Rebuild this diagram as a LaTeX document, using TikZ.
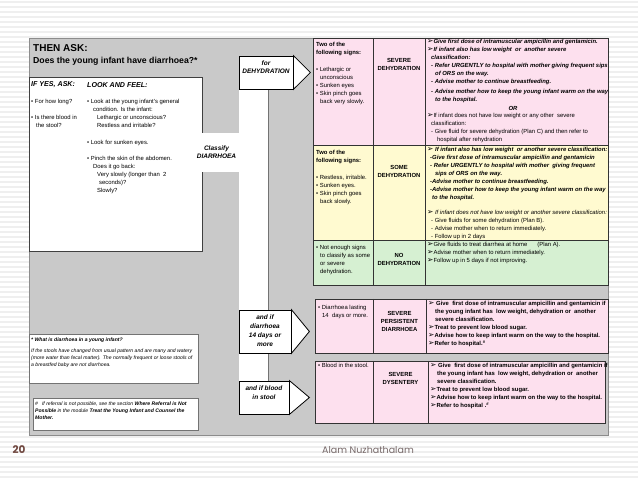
\documentclass[tikz,border=0pt]{standalone}
\usepackage{fontspec}
\setmainfont{Liberation Sans}
\newfontfamily\dingfont{DejaVu Sans}
\newfontfamily\footfont{Poppins}
\usetikzlibrary{calc}
\definecolor{cPanel}{RGB}{201,201,201}
\definecolor{cPink}{RGB}{253,224,238}
\definecolor{cYellow}{RGB}{255,250,208}
\definecolor{cLime}{RGB}{214,240,210}
\definecolor{cStripe}{RGB}{239,239,239}
\definecolor{cNum}{RGB}{112,72,64}
\definecolor{cAuthor}{RGB}{118,104,104}
\newcommand{\arrmark}{{\dingfont\mdseries\upshape\fontsize{7.6}{8}\selectfont ➢}}
\tikzset{
  tabline/.style={draw=black!80, line width=0.6pt},
  boxline/.style={draw=black!75, line width=0.8pt},
  notebox/.style={draw=black!55, line width=0.8pt, fill=white},
  arrowbox/.style={draw=black, line width=0.8pt, fill=white, inner sep=0pt},
  tipshape/.style={draw=black, line width=0.8pt, fill=white},
  tabtext/.style={anchor=north west, align=left, inner sep=0pt, font=\fontsize{5.9}{8}\selectfont},
  tabbi/.style={tabtext, font=\fontsize{5.9}{8}\selectfont\bfseries\itshape},
  tabbf/.style={tabtext, font=\fontsize{5.9}{8}\selectfont\bfseries},
  classlbl/.style={anchor=north, align=center, inner sep=0pt, font=\fontsize{5.9}{7.8}\selectfont\bfseries},
  arrowtext/.style={align=center, inner sep=0pt, font=\fontsize{6.5}{8.9}\selectfont\bfseries\itshape},
  notetext/.style={anchor=north west, align=left, inner sep=0pt, font=\fontsize{5.1}{7}\selectfont\itshape},
  headtext/.style={anchor=west, inner sep=0pt}
}
\begin{document}
\begin{tikzpicture}[x=1pt, y=-1pt]
  \useasboundingbox (0,0) rectangle (638,478);
  % Striped background
  \foreach \yy in {2,7,...,477}
    \draw[cStripe, line width=2pt] (0,\yy) -- (638,\yy);
  % Grey panel
  \draw[fill=cPanel, draw=black!45, line width=0.8pt] (29,38) rectangle (608,435);
  % Ask / look box and white channel
  \draw[boxline, fill=white] (29,77) rectangle (202,251);
  \fill[white] (193,133.5) rectangle (240,172);
  \fill[white] (239,88) rectangle (268,382);
  \draw[black!55, line width=0.7pt] (268,89) -- (268,381);
  % Header texts
  \node[headtext, font=\fontsize{10}{12}\selectfont\bfseries] (thenask) at (33,47.7) {THEN ASK:};
  \node[headtext, font=\fontsize{8.7}{10}\selectfont\bfseries] (askq) at (33,61) {Does the young infant have diarrhoea?*};
  \node[headtext, font=\fontsize{7.1}{9}\selectfont\bfseries\itshape] (ifyes) at (31,84.7) {IF YES, ASK:};
  \node[headtext, font=\fontsize{7.1}{9}\selectfont\bfseries\itshape] (lookfeel) at (87,84.7) {LOOK AND FEEL:};
  \node[tabtext] (askitems) at (31,97.9) {\strut• For how long?\\[8pt]• Is there blood in\\\hspace*{5pt}the stool?};
  \node[tabtext] (lookitems) at (87,97.9) {\strut• Look at the young infant's general\\\hspace*{6pt}condition. Is the infant:\\\hspace*{10pt}Lethargic or unconscious?\\\hspace*{10pt}Restless and irritable?\\[9pt]• Look for sunken eyes.\\[8pt]• Pinch the skin of the abdomen.\\\hspace*{6pt}Does it go back:\\\hspace*{10pt}Very slowly (longer than\ \ 2\\\hspace*{12pt}seconds)?\\\hspace*{10pt}Slowly?};
  \node[arrowtext] (classify) at (216.5,152.2) {Classify\\DIARRHOEA};
  % Arrow boxes
  \node[arrowbox, minimum width=54pt, minimum height=33pt] (dehyd) at (266,72.5) {};
  \draw[tipshape] (dehyd.north east) -- ($(dehyd.east)+(17,0)$) -- (dehyd.south east) -- cycle;
  \node[arrowtext] (dehydtxt) at (266,67.2) {for\\DEHYDRATION};
  \node[arrowbox, minimum width=52pt, minimum height=43pt] (pers) at (265,331.5) {};
  \draw[tipshape] (pers.north east) -- ($(pers.east)+(18,0)$) -- (pers.south east) -- cycle;
  \node[arrowtext] (perstxt) at (265,331) {and if\\diarrhoea\\14 days or\\more};
  \node[arrowbox, minimum width=50pt, minimum height=33pt] (blood) at (264,397.5) {};
  \draw[tipshape] (blood.north east) -- ($(blood.east)+(20,0)$) -- (blood.south east) -- cycle;
  \node[arrowtext] (bloodtxt) at (264,393) {and if blood\\in stool};
  % Dehydration table
  \fill[cPink] (313,38) rectangle (608,145);
  \fill[cYellow] (313,145) rectangle (608,240);
  \fill[cLime] (313,240) rectangle (608,285);
  \draw[tabline] (313,38) rectangle (608,285);
  \draw[tabline] (313,145) -- (608,145) (313,240) -- (608,240);
  \draw[tabline] (373,38) -- (373,285) (425,38) -- (425,285);
  \node[tabtext] (r1sign) at (316,40.9) {\strut\textbf{Two of the}\\\textbf{following signs:}\\[9pt]• Lethargic or\\\hspace*{4pt}unconscious\\• Sunken eyes\\• Skin pinch goes\\\hspace*{4pt}back very slowly.};
  \node[classlbl] (r1class) at (399,56.9) {\strut SEVERE\\DEHYDRATION};
  \node[tabbi] (r1act) at (427,37.9) {\strut\arrmark Give first dose of intramuscular ampicillin and gentamicin.\\\arrmark If infant also has low weight\ \ or\ \ another severe\\\hspace*{4pt}classification:\\\hspace*{4pt}- Refer URGENTLY to hospital with mother giving frequent sips\\\hspace*{8pt}of ORS on the way.\\\hspace*{4pt}- Advise mother to continue breastfeeding.\\[2pt]\hspace*{4pt}- Advise mother how to keep the young infant warm on the way\\\hspace*{8pt}to the hospital.};
  \node[tabbi, anchor=center] (r1or) at (513,108) {OR};
  \node[tabtext] (r1alt) at (427,111.9) {\strut\arrmark If infant does not have low weight or any other\ \ severe\\\hspace*{4pt}classification:\\\hspace*{4pt}- Give fluid for severe dehydration (Plan C) and then refer to\\\hspace*{10pt}hospital after rehydration};
  \node[tabtext] (r2sign) at (316,148.9) {\strut\textbf{Two of the}\\\textbf{following signs:}\\[8.5pt]• Restless, irritable.\\• Sunken eyes.\\• Skin pinch goes\\\hspace*{4pt}back slowly.};
  \node[classlbl] (r2class) at (399,164.2) {\strut SOME\\DEHYDRATION};
  \node[tabbi] (r2act) at (427,146.2) {\strut\arrmark\ If infant also has low weight\ \ or another severe classification:\\\hspace*{3pt}-Give first dose of intramuscular ampicillin and gentamicin\\\hspace*{3pt}- Refer URGENTLY to hospital with mother\ \ giving frequent\\\hspace*{8pt}sips of ORS on the way.\\\hspace*{3pt}-Advise mother to continue breastfeeding.\\\hspace*{3pt}-Advise mother how to keep the young infant warm on the way\\\hspace*{5pt}to the hospital.};
  \node[tabtext] (r2alt) at (427,208.9) {\strut\textit{\arrmark\hspace{1.5pt}If infant does not have low weight or another severe classification:}\\\hspace*{4pt}- Give fluids for some dehydration (Plan B).\\\hspace*{4pt}- Advise mother when to return immediately.\\\hspace*{4pt}- Follow up in 2 days};
  \node[tabtext] (r3sign) at (316,244.2) {\strut• Not enough signs\\\hspace*{4pt}to classify as some\\\hspace*{4pt}or severe\\\hspace*{4pt}dehydration.};
  \node[classlbl] (r3class) at (399,252.2) {\strut NO\\DEHYDRATION};
  \node[tabtext] (r3act) at (427,240.4) {\strut\arrmark Give fluids to treat diarrhea at home\hspace{10pt}(Plan A).\\\arrmark Advise mother when to return immediately.\\\arrmark Follow up in 5 days if not improving.};
  % Persistent diarrhoea table
  \draw[tabline, fill=cPink] (315,299) rectangle (608,353);
  \draw[tabline] (373,299) -- (373,353) (426,299) -- (426,353);
  \node[tabtext] (t2sign) at (318,303.9) {\strut• Diarrhoea lasting\\\hspace*{4pt}14\ \ days or more.};
  \node[classlbl] (t2class) at (399.5,310.2) {\strut SEVERE\\PERSISTENT\\DIARRHOEA};
  \node[tabbf] (t2act) at (428,300.2) {\strut\arrmark\ Give\ \ first dose of intramuscular ampicillin and gentamicin if\\\hspace*{7pt}the young infant has\ \ low weight, dehydration or\ \ another\\\hspace*{7pt}severe classification.\\\arrmark Treat to prevent low blood sugar.\\\arrmark Advise how to keep infant warm on the way to the hospital.\\\arrmark Refer to hospital.\textsuperscript{\#}};
  % Dysentery table
  \draw[tabline, fill=cPink] (315,361) rectangle (605,423);
  \draw[tabline] (373,361) -- (373,423) (428,361) -- (428,423);
  \node[tabtext] (t3sign) at (318,362.2) {\strut• Blood in the stool.};
  \node[classlbl] (t3class) at (400.5,371.2) {\strut SEVERE\\DYSENTERY};
  \node[tabbf] (t3act) at (430,362.2) {\strut\arrmark\ Give\ \ first dose of intramuscular ampicillin and gentamicin if\\\hspace*{7pt}the young infant has\ \ low weight, dehydration or\ \ another\\\hspace*{7pt}severe classification.\\\arrmark Treat to prevent low blood sugar.\\\arrmark Advise how to keep infant warm on the way to the hospital.\\\arrmark Refer to hospital .\textsuperscript{\#}};
  % Footnotes
  \draw[notebox] (29,334) rectangle (198,383);
  \node[notetext] (note1) at (31,336.6) {\strut\textbf{* What is diarrhoea in a young infant?}\\[4pt]If the stools have changed from usual pattern and are many and watery\\(more water than fecal matter). The normally frequent or loose stools of\\a breastfed baby are not diarrhoea.};
  \draw[notebox] (33,398) rectangle (198,430);
  \node[notetext] (note2) at (35,400.6) {\strut\#\hspace{4pt}If referral is not possible, see the section \textbf{Where Referral is Not}\\\textbf{Possible} in the module \textbf{Treat the Young Infant and Counsel the}\\\textbf{Mother.}};
  % Footer
  \node[font=\footfont\fontsize{10.5}{12}\selectfont\bfseries, text=cNum, inner sep=0pt] (pagenum) at (19,450) {20};
  \node[font=\footfont\fontsize{9.5}{12}\selectfont, text=cAuthor, inner sep=0pt] (author) at (368,450) {Alam Nuzhathalam};
\end{tikzpicture}
\end{document}
